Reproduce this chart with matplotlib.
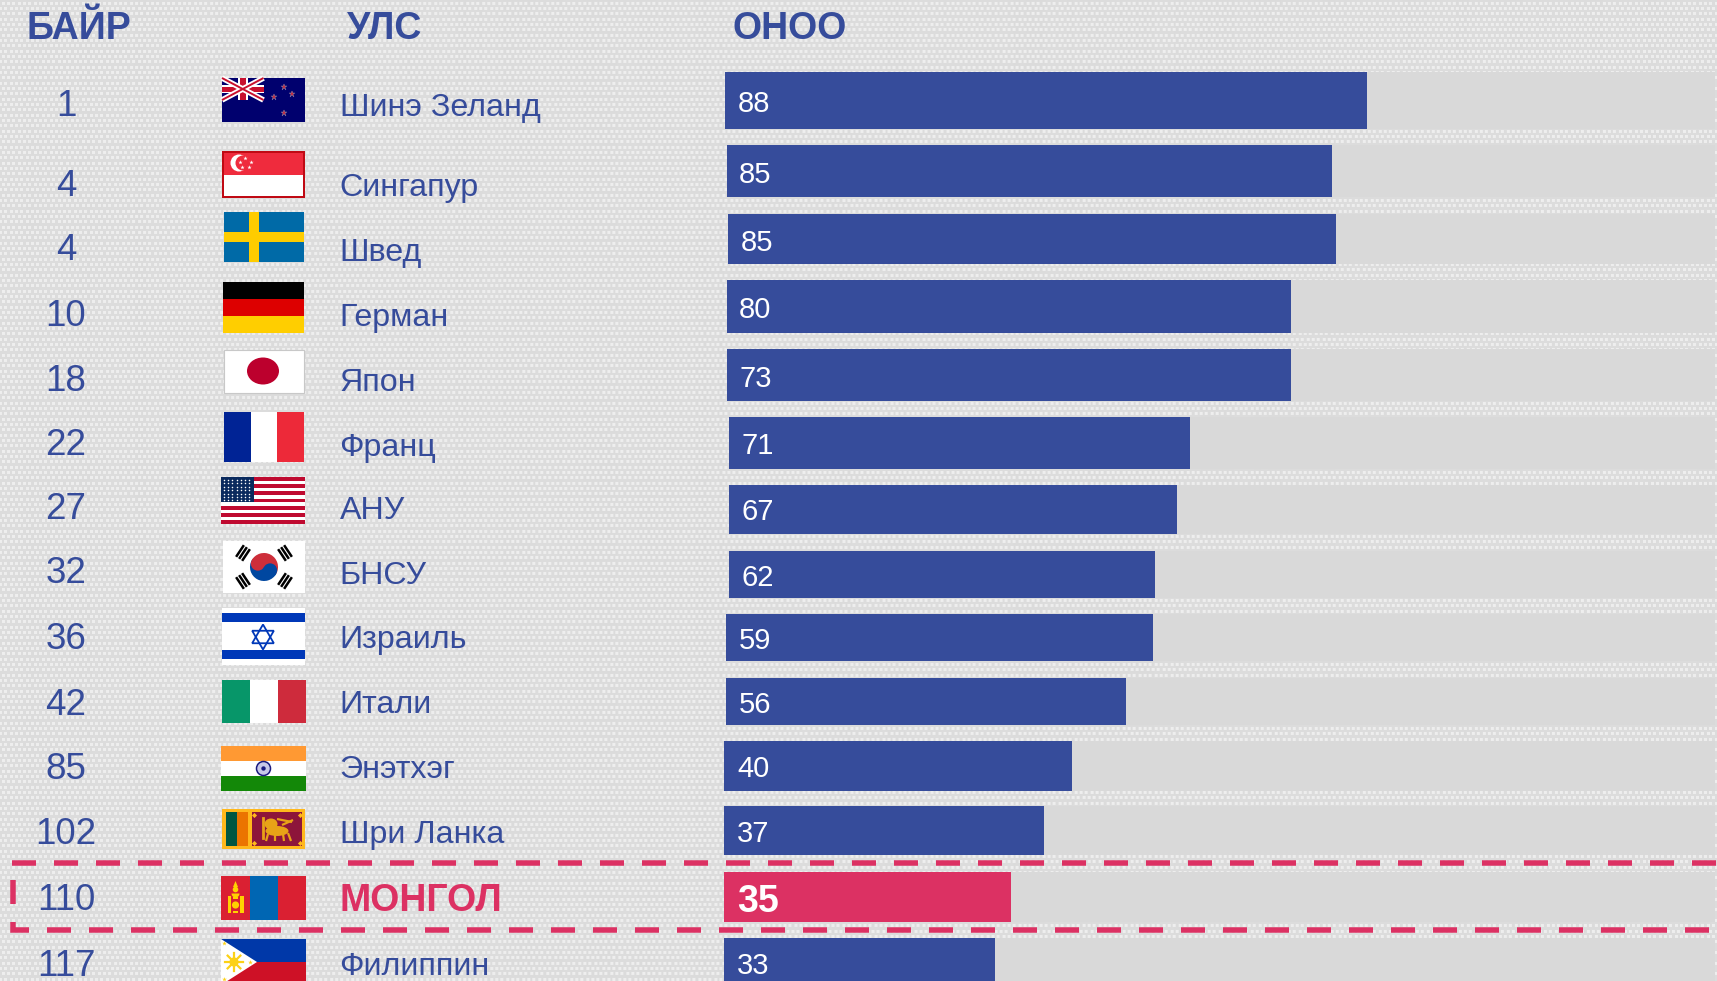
import numpy as np
import matplotlib
matplotlib.use("Agg")
import matplotlib.pyplot as plt
from matplotlib.patches import Rectangle, Circle, Ellipse, Wedge, Polygon

plt.rcParams["font.family"] = ["Liberation Sans", "DejaVu Sans"]
plt.rcParams["lines.scale_dashes"] = False

AZUL = "#364C9B"
ROSA = "#DC3163"
CINZA = "#D9D9D9"

# data
paises = ["Шинэ Зеланд", "Сингапур", "Швед", "Герман", "Япон", "Франц", "АНУ",
          "БНСУ", "Израиль", "Итали", "Энэтхэг", "Шри Ланка", "МОНГОЛ", "Филиппин"]
bairs = [1, 4, 4, 10, 18, 22, 27, 32, 36, 42, 85, 102, 110, 117]
onoo = [88, 85, 85, 80, 73, 71, 67, 62, 59, 56, 40, 37, 35, 33]
# the drawn bars do not follow the printed scores, so their lengths are read separately
urt = [88, 82.9, 83.3, 77.3, 77.3, 63.2, 61.4, 58.4, 58.5, 54.8, 47.7, 43.9, 39.3, 37.1]
MONGOL = paises.index("МОНГОЛ")

# layout, in pixels of the picture
W, H = 1717, 981
X0, PX = 724, 642 / 88
bar_esq = [725, 727, 728, 727, 727, 729, 729, 729, 726, 726, 724, 724, 724, 724]
bar_topo = [72, 145, 214, 280, 349, 417, 485, 551, 614, 678, 741, 806, 872, 938]
bar_base = [129, 197, 264, 333, 401, 469, 534, 598, 661, 725, 791, 855, 922, 990]
base_bair = [116, 196, 260, 326, 391, 455, 519, 583, 649, 715, 779, 844, 910, 976]
base_pais = [116, 196, 261, 326, 391, 456, 519, 584, 648, 713, 778, 843, 911, 975]
base_onoo = [112, 183, 251, 318, 387, 454, 520, 586, 649, 713, 777, 842, 912, 974]
x_onoo = [738, 739, 741, 739, 739, 741, 741, 741, 739, 739, 737, 737, 737, 737]


def retangulo(ax, x0, y0, x1, y1, cor, **kw):
    ax.add_patch(Rectangle((x0, y0), x1 - x0, y1 - y0, facecolor=cor, edgecolor="none", **kw))


def nova_zelandia(ax):
    x0, y0, x1, y1 = 222, 78, 305, 122
    retangulo(ax, x0, y0, x1, y1, "#00006E")
    a, b, cx, cy = 263.5, 100, 243, 89
    clip = Rectangle((x0, y0), a - x0, b - y0, transform=ax.transData)
    for lw, cor in [(4, "white"), (1.4, "#C8102E")]:
        for xs, ys in [((x0, a), (y0, b)), ((x0, a), (b, y0))]:
            ax.plot(xs, ys, color=cor, lw=lw, solid_capstyle="butt", clip_path=clip)
    retangulo(ax, cx - 5, y0, cx + 5, b, "white")
    retangulo(ax, x0, cy - 4, a, cy + 4, "white")
    retangulo(ax, cx - 2.8, y0, cx + 2.8, b, "#C8102E")
    retangulo(ax, x0, cy - 2.5, a, cy + 2.5, "#C8102E")
    ax.plot([284, 292, 274, 284], [87, 94, 97, 113], ls="none", marker="*", ms=5,
            mfc="#C8283C", mec="#8F8FB0", mew=0.3)


def singapura(ax):
    retangulo(ax, 222, 151, 305, 198, "#C00A14")
    retangulo(ax, 224, 153, 303, 174.5, "#EF2B3D")
    retangulo(ax, 224, 174.5, 303, 196, "white")
    ax.add_patch(Circle((239, 163), 8.5, fc="white", ec="none"))
    ax.add_patch(Circle((243, 163), 7.5, fc="#EF2B3D", ec="none"))
    ax.plot([245, 240, 251, 242, 249], [158, 162, 162, 167, 167], ls="none", marker="*",
            ms=3.2, mfc="white", mec="none")


def suecia(ax):
    retangulo(ax, 223.5, 212, 304, 262, "#006AA7")
    retangulo(ax, 249, 212, 259, 262, "#FECC00")
    retangulo(ax, 223.5, 232, 304, 241.5, "#FECC00")


def alemanha(ax):
    retangulo(ax, 223, 282, 304, 299, "black")
    retangulo(ax, 223, 299, 304, 316, "#DD0000")
    retangulo(ax, 223, 316, 304, 333, "#FFCE00")


def japao(ax):
    ax.add_patch(Rectangle((223.5, 350), 80, 43, fc="white", ec="#C8C8C8", lw=0.8))
    ax.add_patch(Ellipse((263, 371), 32, 27, fc="#BC002D", ec="none"))


def franca(ax):
    retangulo(ax, 224, 412, 251, 462, "#002395")
    retangulo(ax, 251, 412, 277, 462, "white")
    retangulo(ax, 277, 412, 304, 462, "#ED2939")


def eua(ax):
    x0, y0, x1, y1 = 221, 477, 305, 524
    alt = (y1 - y0) / 13
    for i in range(13):
        retangulo(ax, x0, y0 + i * alt, x1, y0 + (i + 1) * alt, "#BF0A30" if i % 2 == 0 else "white")
    retangulo(ax, x0, y0, 254, 502, "#0A2A5E")
    gx, gy = np.meshgrid(np.arange(224, 253, 4.2), np.arange(480, 501, 3.4))
    ax.plot(gx.ravel(), gy.ravel(), ls="none", marker="o", ms=1.1, mfc="white", mec="none")


def coreia(ax):
    retangulo(ax, 223, 541, 305, 593, "white")
    cx, cy, r = 264, 567, 14
    ang = 0.5
    ax.add_patch(Wedge((cx, cy), r, 180 + np.degrees(ang), 360 + np.degrees(ang), fc="#CD2E3A", ec="none"))
    ax.add_patch(Wedge((cx, cy), r, np.degrees(ang), 180 + np.degrees(ang), fc="#0047A0", ec="none"))
    dx, dy = np.cos(ang) * r / 2, np.sin(ang) * r / 2
    ax.add_patch(Circle((cx - dx, cy - dy), r / 2, fc="#CD2E3A", ec="none"))
    ax.add_patch(Circle((cx + dx, cy + dy), r / 2, fc="#0047A0", ec="none"))
    for tx, ty in [(243, 553), (285, 553), (243, 581), (285, 581)]:
        vx, vy = tx - cx, ty - cy
        n = np.hypot(vx, vy)
        vx, vy = vx / n, vy / n
        for k in (-3.6, 0, 3.6):
            mx, my = tx + k * vx, ty + k * vy
            ax.plot([mx - vy * 7, mx + vy * 7], [my + vx * 7, my - vx * 7],
                    color="black", lw=1.8, solid_capstyle="butt")


def israel(ax):
    retangulo(ax, 222, 608, 305, 665, "white")
    retangulo(ax, 222, 613, 305, 622, "#0038B8")
    retangulo(ax, 222, 650, 305, 659, "#0038B8")
    cx, cy, r = 263, 637, 12.5
    for fase in (-90, 90):
        t = np.radians([fase, fase + 120, fase + 240])
        pts = np.column_stack([cx + r * np.cos(t), cy + r * np.sin(t)])
        ax.add_patch(Polygon(pts, closed=True, fc="none", ec="#0038B8", lw=1.3))


def italia(ax):
    retangulo(ax, 221.5, 680, 249.5, 723, "#079669")
    retangulo(ax, 249.5, 680, 277.5, 723, "white")
    retangulo(ax, 277.5, 680, 306, 723, "#CE2B3C")


def india(ax):
    retangulo(ax, 221, 746, 306, 761, "#FF9933")
    retangulo(ax, 221, 761, 306, 776, "white")
    retangulo(ax, 221, 776, 306, 791, "#138808")
    ax.add_patch(Circle((263.5, 768.5), 7, fc="#C8C8E8", ec="#1A1A80", lw=1.1))
    ax.add_patch(Circle((263.5, 768.5), 2.2, fc="#1A1A80", ec="none"))


def sri_lanka(ax):
    amarelo = "#FFB81C"
    retangulo(ax, 222, 809, 305, 849, amarelo)
    retangulo(ax, 225.5, 812, 237, 846, "#005641")
    retangulo(ax, 237, 812, 248, 846, "#EB7400")
    retangulo(ax, 251.5, 812, 302, 846, "#8D153A")
    ax.add_patch(Ellipse((277, 831), 23, 10, fc="#E8A317", ec="none"))
    ax.add_patch(Ellipse((271, 824), 13, 11, fc="#E8A317", ec="none"))
    ax.plot([263, 263], [818, 838], color="#E8A317", lw=2)
    for xs, ys in [((268, 266), (834, 841)), ((275, 275), (834, 841)), ((283, 284), (834, 841)),
                   ((288, 291), (833, 841)), ((282, 293), (825, 820)), ((277, 292), (819, 822))]:
        ax.plot(xs, ys, color="#E8A317", lw=1.6, solid_capstyle="butt")
    ax.plot([254, 300, 254, 300], [815, 815, 843, 843], ls="none", marker="D", ms=2.6,
            mfc=amarelo, mec="none")


def mongolia(ax):
    amarelo = "#FFD200"
    retangulo(ax, 221, 876, 250, 920, "#DA2032")
    retangulo(ax, 250, 876, 278, 920, "#0066B3")
    retangulo(ax, 278, 876, 306, 920, "#DA2032")
    ax.add_patch(Polygon([(235.5, 881), (238, 887), (233, 887)], closed=True, fc=amarelo, ec="none"))
    ax.add_patch(Circle((235.5, 889.5), 2.8, fc=amarelo, ec="none"))
    ax.add_patch(Wedge((235.5, 893.5), 4, 0, 180, fc=amarelo, ec="none"))
    retangulo(ax, 228, 896, 231, 913, amarelo)
    retangulo(ax, 240, 896, 243.5, 913, amarelo)
    retangulo(ax, 233, 897, 238, 899, amarelo)
    retangulo(ax, 233, 911, 238, 913, amarelo)
    ax.add_patch(Circle((235.5, 905), 3.6, fc=amarelo, ec="none"))


def filipinas(ax):
    x0, x1, y0, yc, y1 = 221, 306, 939, 962, 985
    retangulo(ax, x0, y0, x1, yc, "#0038A8")
    retangulo(ax, x0, yc, x1, y1, "#CE1126")
    ax.add_patch(Polygon([(x0, y0), (257, yc), (x0, y1)], closed=True, fc="white", ec="none"))
    for a in np.radians(np.arange(0, 360, 45)):
        ax.plot([234, 234 + 9 * np.cos(a)], [962, 962 + 9 * np.sin(a)], color="#FCD116", lw=1.6)
    ax.add_patch(Circle((234, 962), 4.6, fc="#FCD116", ec="none"))
    ax.plot([224, 224, 250], [943, 979, 962], ls="none", marker="*", ms=3.5, mfc="#FCD116", mec="none")


fig = plt.figure(figsize=(W / 100, H / 100), dpi=100)

# page background with the woven dot texture
ax = fig.add_axes([0, 0, 1, 1], zorder=0)
ax.set_xlim(0, W)
ax.set_ylim(H, 0)
ax.axis("off")

P = 16 / 3
yy, xx = np.mgrid[0:H, 0:W]
linha = np.floor(yy / P)
u = (xx / P + linha * 0.5) % 1
v = (yy / P) % 1
fundo = np.where((np.abs(u - 0.5) < 0.3) & (np.abs(v - 0.5) < 0.3), 238, 220).astype(float)
ax.imshow(fundo, cmap="gray", vmin=0, vmax=255, extent=(0, W, H, 0), aspect="auto",
          interpolation="bilinear", zorder=0)

# header
ax.text(26, 39, "БАЙР", color=AZUL, fontsize=27, fontweight="bold", va="baseline")
ax.text(347, 39, "УЛС", color=AZUL, fontsize=27, fontweight="bold", va="baseline")
ax.text(732, 39, "ОНОО", color=AZUL, fontsize=27, fontweight="bold", va="baseline")

# rank and country columns
for i, pais in enumerate(paises):
    ax.text(66, base_bair[i], str(bairs[i]), color=AZUL, fontsize=26.5, ha="center", va="baseline")
    if i == MONGOL:
        ax.text(339.5, base_pais[i], pais, color=ROSA, fontsize=27, fontweight="bold", va="baseline")
    else:
        ax.text(339.5, base_pais[i], pais, color=AZUL, fontsize=23.2, va="baseline")

for bandeira in [nova_zelandia, singapura, suecia, alemanha, japao, franca, eua, coreia,
                 israel, italia, india, sri_lanka, mongolia, filipinas]:
    bandeira(ax)

# dashed frame around the highlighted row
tracos = (0, (24 * 0.72, 18 * 0.72))
ax.plot([12, W], [863, 863], color=ROSA, lw=5.5 * 0.72, ls=tracos, dash_capstyle="butt")
ax.plot([12.5, 12.5, W], [880, 930, 930], color=ROSA, lw=5.5 * 0.72, ls=tracos,
        dash_capstyle="butt", dash_joinstyle="miter")

# bars: x axis in score units, y axis in picture rows
ax_bar = fig.add_axes([0, 0, 1, 1], zorder=1)
ax_bar.patch.set_alpha(0)
ax_bar.set_xlim(-X0 / PX, (W - X0) / PX)
ax_bar.set_ylim(H, 0)
ax_bar.axis("off")

esq = (np.array(bar_esq) - X0) / PX
topo = np.array(bar_topo)
base = np.array(bar_base)
centro = (topo + base) / 2
altura = base - topo
cores = [ROSA if i == MONGOL else AZUL for i in range(len(paises))]

ax_bar.barh(centro, (1715 - np.array(bar_esq)) / PX, left=esq, height=altura, color=CINZA, linewidth=0)
ax_bar.barh(centro, urt, left=esq, height=altura, color=cores, linewidth=0)

for i, valor in enumerate(onoo):
    destaque = i == MONGOL
    ax_bar.text((x_onoo[i] - X0) / PX, base_onoo[i], str(valor), color="white",
                fontsize=27 if destaque else 21, fontweight="bold" if destaque else "normal",
                va="baseline")

fig.savefig("out.png", dpi=100)
